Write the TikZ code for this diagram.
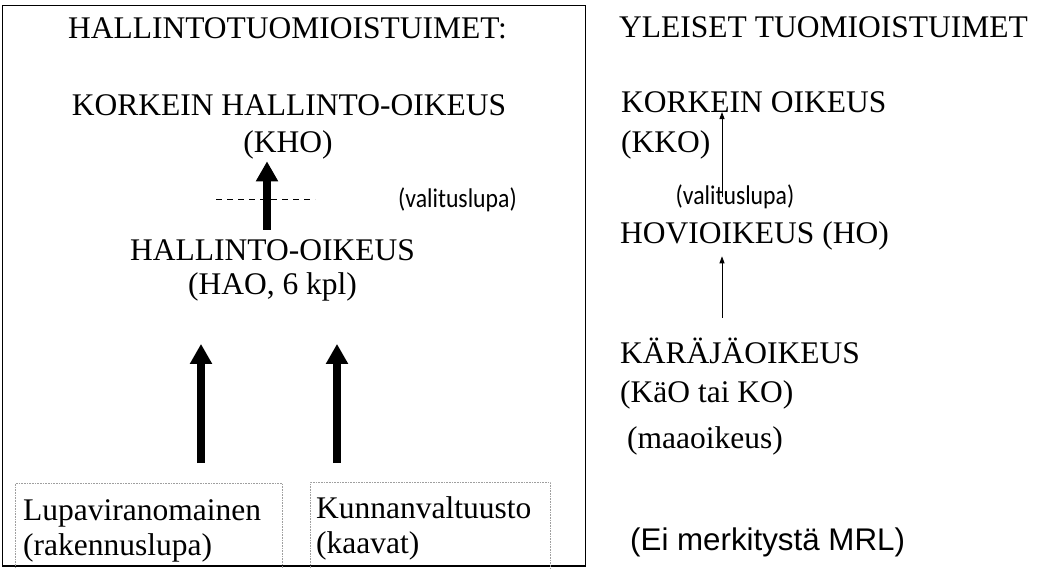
\documentclass[tikz,border=0pt]{standalone}
\usepackage{fontspec}
\setmainfont{Liberation Serif}
\newfontfamily\notefont[FakeStretch=0.88]{Carlito}
\newfontfamily\mrlfont{Liberation Sans}
\usetikzlibrary{arrows.meta}
\tikzset{
  court/.style={inner sep=0pt, font=\fontsize{31.5}{36}\selectfont},
  note/.style={inner sep=0pt, font=\notefont\fontsize{27}{30}\selectfont},
  frame/.style={draw, line width=1.5pt},
  dotbox/.style={draw=gray!75, line width=0.7pt, dash pattern=on 0.8pt off 0.8pt},
  bigarr/.style={-{Triangle[length=20pt,width=21pt]}, line width=7.5pt},
  thinarr/.style={-{Triangle[length=7pt,width=5pt]}, line width=0.9pt},
  cutline/.style={line width=1pt, dash pattern=on 6pt off 5pt},
}

\begin{document}
\begin{tikzpicture}[x=1pt,y=-1pt]
\useasboundingbox (0,0) rectangle (1039,568);
% hallintotuomioistuimet
\draw[frame] (2.5,5.5) rectangle (585.5,566);
\node[court, anchor=base] (hallt) at (287.5,38) {HALLINTOTUOMIOISTUIMET:};
\node[court, anchor=base] (kho1) at (289,115) {KORKEIN HALLINTO-OIKEUS};
\node[court, anchor=base] (kho2) at (288,152) {(KHO)};
\node[note] (val1) at (457.5,199.5) {(valituslupa)};
\node[court, anchor=base] (hao1) at (272.5,260) {HALLINTO-OIKEUS};
\node[court, anchor=base] (hao2) at (272.5,294) {(HAO, 6 kpl)};
\node[dotbox, anchor=north west, minimum width=267pt, minimum height=120pt] (lupabox) at (15,483) {};
\node[dotbox, anchor=north west, minimum width=240pt, minimum height=120pt] (kuntabox) at (310,482) {};
\node[court, anchor=base west] (lupa1) at (23,520) {Lupaviranomainen};
\node[court, anchor=base west] (lupa2) at (23,555) {(rakennuslupa)};
\node[court, anchor=base west] (kunta1) at (316,518) {Kunnanvaltuusto};
\node[court, anchor=base west] (kunta2) at (316,553) {(kaavat)};
\coordinate (khox) at (267,0);
\coordinate (lupax) at (201,0);
\coordinate (kuntax) at (337,0);
\draw[cutline] (216,199) -- (315,199);
\draw[bigarr, shorten <=9pt, shorten >=2.4pt] (hao1.north -| khox) -- (kho2.south -| khox);
\draw[bigarr, shorten <=20pt, shorten >=43pt] (lupabox.north -| lupax) -- (hao2.south -| lupax);
\draw[bigarr, shorten <=19pt, shorten >=43pt] (kuntabox.north -| kuntax) -- (hao2.south -| kuntax);
% yleiset tuomioistuimet
\node[court, anchor=base west] (yleiset) at (619,37) {YLEISET TUOMIOISTUIMET};
\node[court, anchor=base west] (kko1) at (621,112) {KORKEIN OIKEUS};
\node[court, anchor=base west] (kko2) at (621,152) {(KKO)};
\node[note] (val2) at (735,197) {(valituslupa)};
\node[court, anchor=base west] (ho) at (620,243) {HOVIOIKEUS (HO)};
\node[court, anchor=base west] (ko1) at (620,363) {KÄRÄJÄOIKEUS};
\node[court, anchor=base west] (ko2) at (620,402) {(KäO tai KO)};
\node[court, anchor=base west] (maa) at (627,448) {(maaoikeus)};
\node[court, anchor=base west, font=\mrlfont\fontsize{31.3}{36}\selectfont] (mrl) at (630,550) {(Ei merkitystä MRL)};
\coordinate (yx) at (722,0);
\draw[thinarr] (val2.center -| yx) -- (yx |- kko1.base);
\draw[thinarr, shorten <=19.4pt, shorten >=6.4pt] (ko1.north -| yx) -- (ho.south -| yx);
\end{tikzpicture}
\end{document}
